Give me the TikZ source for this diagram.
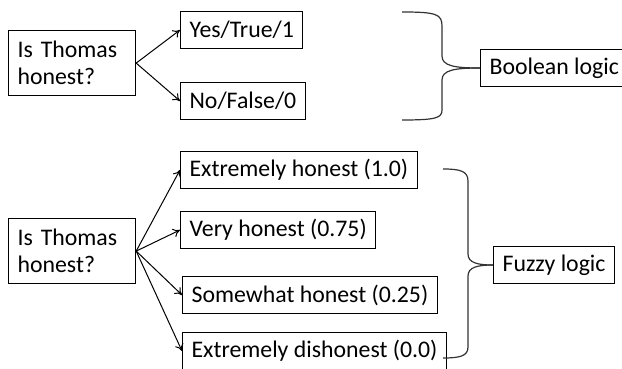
\documentclass[tikz,border=0pt]{standalone}
\usepackage{fontspec}
\setmainfont{Carlito}
\usetikzlibrary{arrows.meta}

\tikzset{
  box/.style={draw, line width=1.2pt, inner xsep=9pt, inner ysep=0pt,
    minimum height=37pt, anchor=west, font=\fontsize{23.8}{27}\selectfont},
  qbox/.style={box, anchor=north west, align=left, text width=109pt, minimum height=65pt},
  link/.style={line width=1pt, -{To[length=7pt,width=9pt]}},
  brace/.style={line width=1.2pt, draw=black!80}
}

\begin{document}
\begin{tikzpicture}[x=1pt, y=-1pt]
  % page size of the reference
  \path[use as bounding box, clip] (0,0) rectangle (622,369);

  % Boolean logic part
  \node[qbox] (q1) at (8,30) {Is Thomas\\honest?};
  \node[box] (yes) at (180,30) {Yes/True/1};
  \node[box] (no) at (180,101) {No/False/0};
  \node[box] (boolean) at (480,68) {Boolean logic};

  \draw[link] (q1.east) -- (yes.west);
  \draw[link] (q1.east) -- (no.west);

  \coordinate (b1top) at (402,12);
  \coordinate (b1bot) at (402,120);
  \draw[brace] (b1top) .. controls (436,12) and (442,14) .. (442,26) -- (442,56)
    .. controls (442,66) and (455,68) .. (boolean.west);
  \draw[brace] (boolean.west) .. controls (455,68) and (442,70) .. (442,80) -- (442,110)
    .. controls (442,118) and (436,120) .. (b1bot);

  % Fuzzy logic part
  \node[qbox] (q2) at (8,218) {Is Thomas\\honest?};
  \node[box] (exhon) at (180,170) {Extremely honest (1.0)};
  \node[box] (veryhon) at (180,230) {Very honest (0.75)};
  \node[box] (somehon) at (182,295) {Somewhat honest (0.25)};
  \node[box] (exdis) at (182,351) {Extremely dishonest (0.0)};
  \node[box] (fuzzy) at (493,265) {Fuzzy logic};

  \foreach \t in {exhon,veryhon,somehon,exdis}
    \draw[link] (q2.east) -- (\t.west);

  \coordinate (b2top) at (443,169);
  \coordinate (b2bot) at (443,358);
  \draw[brace] (b2top) .. controls (460,169) and (468,171) .. (468,181) -- (468,254)
    .. controls (468,263) and (478,265) .. (fuzzy.west);
  \draw[brace] (fuzzy.west) .. controls (478,265) and (468,267) .. (468,276) -- (468,347)
    .. controls (468,356) and (460,358) .. (b2bot);
\end{tikzpicture}
\end{document}
